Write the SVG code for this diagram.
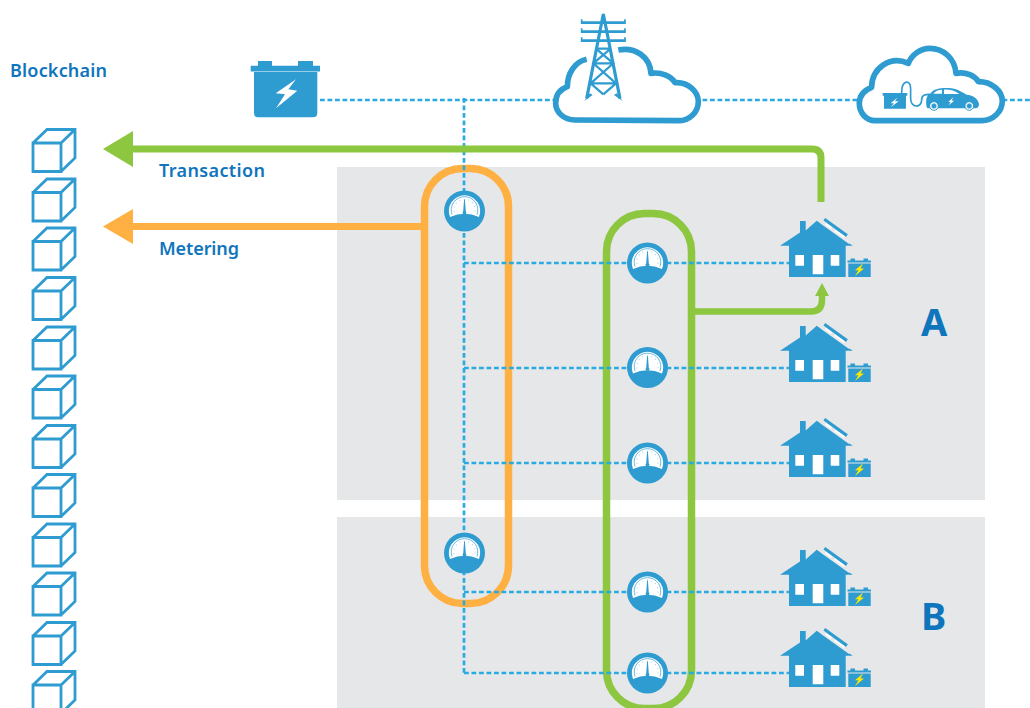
<svg xmlns="http://www.w3.org/2000/svg" xmlns:xlink="http://www.w3.org/1999/xlink" width="1030" height="708" viewBox="0 0 1030 708">
<style>
.t{font-family:"Noto Sans","Open Sans",sans-serif;fill:#0f75bc;font-weight:600}
.big{font-weight:700}
.d{fill:none;stroke:#29abe2;stroke-width:2.700;stroke-dasharray:4.800 2.700}
.f{fill:#2e9bd1}
.cube{fill:none;stroke:#2e9bd1;stroke-width:2.800;stroke-linejoin:miter}
</style>
<defs>
<g id="cube"><path class="cube" d="M33 14.500H61V43H33ZM33 14.500L47 1H75V29.500L61 43M61 14.500L75 1"/></g>
<g id="meter">
<circle class="f" r="20.500"/>
<path fill="#fff" d="M-14.500 6A15.700 15.700 0 1 1 14.500 6Q0 -0.500 -14.500 6Z"/>
<path fill="none" stroke="#2e9bd1" stroke-width="0.700" d="M-12.500 3.500A13.300 13.300 0 1 1 12.500 3.500"/>
<path fill="none" stroke="#a9d5ec" stroke-width="1.300" stroke-dasharray="0.900 3.600" d="M-10.500 1A10.700 10.700 0 1 1 10.500 1"/>
<path class="f" d="M-0.400 -11.500H0.400L1.300 0.500A1.600 1.600 0 0 1 1.300 3H-1.300A1.600 1.600 0 0 1 -1.300 0.500Z"/>
</g>
<g id="house">
<path class="f" d="M800 221H805.700V230.500L816.700 220.700L852.700 245.700H845.700V277H789V245.700H780L800 232.500Z"/>
<path fill="#e6e7e8" d="M820.500 223.500L823 221L851 241L849 244Z"/>
<path class="f" d="M823.500 220.500L825.200 218L847.800 234.200L846 237Z"/>
<path fill="#fff" d="M795.300 255H804V265.700H795.300ZM812.700 255H823.300V274.300H812.700ZM830.700 255H839.300V265.700H830.700Z"/>
<path fill="#fff" d="M825 224.500L826 223L832 227.500L831 229ZM834 231L835 229.500L845 236.500L844 238Z"/>
<path class="f" d="M848.300 263.500H870.700V277H848.300ZM847.500 260.500H871V262.500H847.500ZM850.500 258.500H855V260.500H850.500ZM863.500 258.500H868V260.500H863.500Z"/>
<path fill="#ffe900" d="M863 263.500L855 270.300H858.500L855 276L864 268.500H860.500Z"/>
</g>
</defs>
<g id="zone-a"><rect x="337" y="167" width="648" height="333" fill="#e6e7e8"/></g>
<g id="zone-b"><rect x="337" y="517" width="648" height="191" fill="#e6e7e8"/></g>
<g id="group-orange"><rect x="424.500" y="168.500" width="84" height="435" rx="38" fill="none" stroke="#ffb042" stroke-width="7.500"/></g>
<g id="group-green"><rect x="606.500" y="213.500" width="85" height="495" rx="38" fill="none" stroke="#8dc63f" stroke-width="7.500"/></g>
<g id="connectors">
<path class="d" d="M320 100H1030"/>
<path class="d" d="M464 98V673"/>
<path class="d" d="M464 263H790M464 368H790M464 463H790M464 592H790M464 673H790"/>
<path fill="none" stroke="#8dc63f" stroke-width="7" d="M821 202V158Q821 149 812 149H130"/>
<path fill="#8dc63f" d="M103 149L133 131V167Z"/>
<path fill="none" stroke="#ffb042" stroke-width="7" d="M424 226.500H130"/>
<path fill="#ffb042" d="M103 226.500L133 209V244Z"/>
<path fill="none" stroke="#8dc63f" stroke-width="6.500" d="M692 311.500H811Q822 311.500 822 300V293"/>
<path fill="#8dc63f" d="M822 283L829 296H815Z"/>
</g>
<g id="blockchain">
<use xlink:href="#cube" href="#cube" y="128.500"/>
<use xlink:href="#cube" href="#cube" y="178"/>
<use xlink:href="#cube" href="#cube" y="227"/>
<use xlink:href="#cube" href="#cube" y="276.500"/>
<use xlink:href="#cube" href="#cube" y="326"/>
<use xlink:href="#cube" href="#cube" y="375"/>
<use xlink:href="#cube" href="#cube" y="424.500"/>
<use xlink:href="#cube" href="#cube" y="473.500"/>
<use xlink:href="#cube" href="#cube" y="523"/>
<use xlink:href="#cube" href="#cube" y="572"/>
<use xlink:href="#cube" href="#cube" y="621.500"/>
<use xlink:href="#cube" href="#cube" y="670.500"/>
</g>
<g id="battery">
<path class="f" d="M254 72H317.300V113Q317.300 117.300 313 117.300H258Q254 117.300 254 113ZM250.700 65.700H320V71.500H250.700ZM258 61H272V66H258ZM298 61H313V66H298Z"/>
<path fill="#fff" d="M296 79.300L275.700 93.300L285 94.300L276 108.300L297.300 90.700L288.300 89.300Z"/>
</g>
<g id="grid-cloud">
<g transform="translate(540 0) scale(0.3333)">
<path fill="#fff" stroke="#2e9bd1" stroke-width="17" stroke-linejoin="round" d="M235 150C285 140 330 170 333 220C365 215 395 230 405 248C445 245 475 275 475 305C475 335 450 362 415 362L105 360C70 360 47 335 47 310C47 285 60 268 82 260C82 220 105 185 140 178"/>
<g fill="none" stroke="#2e9bd1">
<path stroke-width="9.500" d="M190 42L140 296M190 42L240 296"/>
<path fill="#2e9bd1" stroke="none" d="M186 50L190 38L194 50ZM132 303L158 285L150 280ZM248 303L222 285L230 280Z"/>
<path stroke-width="8" d="M125 68H255M125 95H255M125 122H255"/>
<path stroke-width="5" d="M125 58V72M255 58V72M125 85V99M255 85V99M125 112V126M255 112V126"/>
<path stroke-width="6.500" d="M168 146H212M160 190H220M152 250H228M168 146L220 190L152 250M212 146L160 190L228 250M152 250L190 283M228 250L190 283"/>
</g>
</g>
</g>
<g id="ev-cloud">
<g transform="translate(540 0) scale(0.3333)">
<path fill="#fff" stroke="#2e9bd1" stroke-width="17" stroke-linejoin="round" d="M1005 362H1325C1360 362 1387 335 1387 303C1387 272 1355 245 1315 245C1305 228 1280 215 1248 220C1245 175 1210 145 1170 145C1140 145 1115 165 1105 190C1050 165 995 205 995 262C975 270 958 285 958 310C958 340 980 362 1005 362Z"/>
<path class="f" d="M1032 287H1098V326H1032ZM1028 279H1102V287H1028Z"/>
<path fill="#fff" d="M1072 293L1052 310H1062L1052 322L1076 304H1065Z"/>
<path fill="none" stroke="#2e9bd1" stroke-width="5" d="M1085 279C1085 238 1112 238 1112 265V295C1112 325 1145 325 1145 300C1145 285 1155 283 1170 283"/>
<path class="f" d="M1160 320C1156 300 1160 285 1172 280C1180 266 1205 263 1225 264C1250 264 1268 278 1280 284C1300 286 1315 296 1317 312C1317 322 1312 325 1306 325H1170C1165 325 1161 325 1160 320Z"/>
<path fill="#fff" d="M1180 281C1186 272 1195 270 1206 269V281ZM1212 269C1228 268 1245 272 1258 282H1212Z"/>
<path fill="#fff" d="M1240 292L1225 306H1232L1226 316L1243 302H1235Z"/>
<circle cx="1182" cy="318" r="13" fill="#fff" stroke="#2e9bd1" stroke-width="3"/>
<circle cx="1182" cy="318" r="8" fill="#2e9bd1" stroke="#fff" stroke-width="1"/>
<circle cx="1288" cy="318" r="13" fill="#fff" stroke="#2e9bd1" stroke-width="3"/>
<circle cx="1288" cy="318" r="8" fill="#2e9bd1" stroke="#fff" stroke-width="1"/>
</g>
</g>
<use id="meter-1" xlink:href="#meter" href="#meter" x="464.500" y="211"/>
<use id="meter-2" xlink:href="#meter" href="#meter" x="464.500" y="553"/>
<use id="meter-3" xlink:href="#meter" href="#meter" x="647.500" y="263"/>
<use id="meter-4" xlink:href="#meter" href="#meter" x="647.500" y="367.500"/>
<use id="meter-5" xlink:href="#meter" href="#meter" x="647.500" y="463"/>
<use id="meter-6" xlink:href="#meter" href="#meter" x="647.500" y="592"/>
<use id="meter-7" xlink:href="#meter" href="#meter" x="647.500" y="673"/>
<use id="house-1" xlink:href="#house" href="#house"/>
<use id="house-2" xlink:href="#house" href="#house" y="105"/>
<use id="house-3" xlink:href="#house" href="#house" y="200"/>
<use id="house-4" xlink:href="#house" href="#house" y="329"/>
<use id="house-5" xlink:href="#house" href="#house" y="410"/>
<g id="labels">
<text class="t" x="10" y="77" font-size="18" textLength="97">Blockchain</text>
<text class="t" x="159" y="177" font-size="18" textLength="106">Transaction</text>
<text class="t" x="159" y="255" font-size="18" textLength="80">Metering</text>
<text class="t big" x="921" y="336" font-size="38">A</text>
<text class="t big" x="921" y="630" font-size="38">B</text>
</g>
</svg>
